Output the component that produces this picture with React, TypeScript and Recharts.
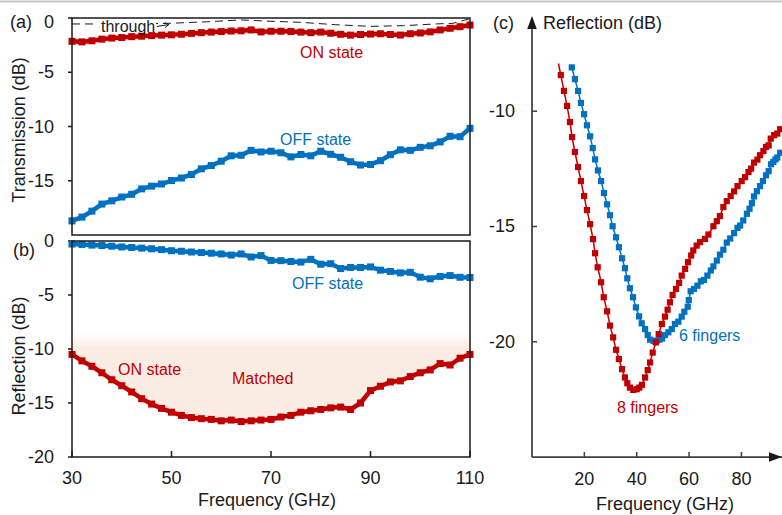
import React from 'react';
import { LineChart, ComposedChart, Line, Area, XAxis, YAxis } from 'recharts';

const FONT = '"Liberation Sans", Arial, Helvetica, sans-serif';
const RED = '#c00000';
const BLUE = '#0070c0';
const INK = '#1a1a1a';
const AXIS_C = '#404040';

// (a) and (b): 30-110 GHz sweep
const FREQ_AB = [30, 32, 34, 36, 38, 40, 42, 44, 46, 48, 50, 52, 54, 56, 58, 60, 62, 64, 66, 68, 70,
  72, 74, 76, 78, 80, 82, 84, 86, 88, 90, 92, 94, 96, 98, 100, 102, 104, 106, 108, 110];

const ON_TRANS = [-2.15, -2.2, -2.1, -1.95, -1.85, -1.8, -1.72, -1.68, -1.62, -1.58,
  -1.55, -1.5, -1.42, -1.35, -1.3, -1.25, -1.2, -1.18, -1.1, -1.28,
  -1.22, -1.22, -1.25, -1.3, -1.35, -1.3, -1.4, -1.5, -1.58, -1.52,
  -1.48, -1.45, -1.52, -1.57, -1.45, -1.38, -1.28, -1.1, -0.95, -0.8, -0.65];

const OFF_TRANS = [-18.7, -18.35, -17.8, -17.15, -16.85, -16.5, -16.25, -15.75, -15.5, -15.3,
  -14.98, -14.75, -14.42, -13.9, -13.6, -13.2, -12.7, -12.65, -12.2, -12.35,
  -12.28, -12.42, -12.8, -12.58, -12.7, -12.28, -12.56, -12.84, -13.25, -13.55,
  -13.5, -13.15, -12.6, -12.15, -12.2, -11.92, -11.78, -11.42, -10.9, -10.94, -10.17];

const THROUGH_FREQ = [30, 38, 49, 57, 64, 70, 76, 83, 90, 96.5, 103, 106.6, 110];
const THROUGH_DB = [-0.55, -0.55, -0.5, -0.35, -0.18, -0.3, -0.4, -0.62, -0.77, -0.71, -0.55, -0.49, -0.06];

const OFF_REFL = [-0.28, -0.32, -0.38, -0.42, -0.48, -0.55, -0.6, -0.66, -0.72, -0.8,
  -0.9, -0.95, -1.02, -1.07, -1.13, -1.2, -1.3, -1.2, -1.48, -1.35,
  -1.8, -1.82, -1.9, -1.95, -1.7, -2.15, -2.1, -2.55, -2.45, -2.45,
  -2.4, -2.7, -2.82, -2.95, -2.9, -3.35, -3.5, -3.28, -3.2, -3.36, -3.38];

const ON_REFL = [-10.5, -11.1, -11.6, -12.2, -12.85, -13.4, -13.98, -14.6, -15.1, -15.5,
  -15.85, -16.15, -16.35, -16.45, -16.52, -16.65, -16.58, -16.72, -16.65, -16.58,
  -16.52, -16.3, -16.15, -15.85, -15.72, -15.6, -15.45, -15.38, -15.6, -15.0,
  -13.85, -13.45, -13.05, -12.95, -12.55, -12.2, -11.94, -11.35, -11.48, -10.85, -10.5];

const MATCH_TOP = -8.5; // upper edge of the shaded "Matched" band

// (c): reflection for 8 and 6 fingers
const F8_FREQ = [10.1, 11.0, 12.2, 13.4, 14.5, 15.3, 16.4, 17.6, 18.7, 19.9,
  21.0, 22.2, 23.3, 24.1, 25.1, 26.4, 27.4, 28.7, 29.8, 31.0,
  32.1, 33.2, 34.4, 35.5, 36.4, 37.4, 38.7, 40.0, 41.0, 42.0,
  43.2, 44.2, 45.1, 46.1, 47.3, 48.4, 49.6, 50.8, 51.8, 52.7,
  53.7, 55.0, 56.2, 57.2, 58.5, 59.6, 60.8, 61.6, 62.9, 64.2,
  66.1, 67.4, 69.3, 70.6, 71.8, 73.1, 74.4, 75.9, 77.2, 78.5,
  80.1, 81.4, 82.7, 83.7, 84.8, 86.1, 87.1, 88.4, 89.4, 90.4,
  91.2, 92.5, 93.7, 94.8];
const F8_DB = [-7.93, -8.43, -9.12, -9.77, -10.47, -11.12, -11.77, -12.42, -13.03, -13.68,
  -14.29, -14.9, -15.55, -16.16, -16.77, -17.42, -18.07, -18.68, -19.3, -19.81,
  -20.35, -20.75, -21.19, -21.55, -21.8, -21.99, -22.09, -22.06, -21.99, -21.87,
  -21.55, -21.23, -20.9, -20.47, -20.03, -19.67, -19.23, -18.91, -18.61, -18.29,
  -17.97, -17.71, -17.45, -17.13, -16.84, -16.55, -16.26, -16.04, -15.83, -15.68,
  -15.54, -15.35, -14.99, -14.77, -14.55, -14.16, -13.9, -13.68, -13.48, -13.25,
  -13.03, -12.86, -12.64, -12.49, -12.23, -12.1, -11.91, -11.73, -11.55, -11.48,
  -11.19, -11.04, -10.97, -10.78];

const F6_FREQ = [15.2, 16.4, 17.6, 18.7, 19.9, 21.0, 22.2, 23.2, 24.1, 25.2,
  26.4, 27.5, 28.7, 29.8, 30.8, 32.1, 33.2, 34.4, 35.5, 36.4,
  37.4, 38.6, 39.7, 40.9, 41.9, 43.2, 44.2, 45.1, 46.4, 47.6,
  48.7, 49.7, 50.8, 52.1, 53.4, 54.6, 55.9, 57.2, 58.2, 59.5,
  59.9, 60.6, 61.9, 63.2, 64.5, 65.7, 67.0, 68.3, 69.3, 70.6,
  71.8, 73.1, 74.4, 75.7, 77.2, 78.5, 79.5, 80.7, 82.1, 83.1,
  84.0, 84.8, 85.9, 87.1, 88.2, 89.4, 90.4, 91.3, 92.2, 93.0,
  93.7, 94.8];
const F6_DB = [-8.1, -8.61, -9.12, -9.64, -10.13, -10.61, -11.09, -11.6, -12.09, -12.57,
  -13.03, -13.55, -14.04, -14.51, -14.99, -15.47, -15.9, -16.38, -16.81, -17.25,
  -17.68, -18.07, -18.51, -18.9, -19.2, -19.45, -19.71, -19.91, -19.96, -19.96,
  -19.91, -19.86, -19.71, -19.59, -19.45, -19.23, -19.13, -18.91, -18.7, -18.48,
  -18.19, -17.81, -17.71, -17.57, -17.38, -17.32, -17.13, -16.91, -16.73, -16.48,
  -16.22, -16.01, -15.7, -15.52, -15.29, -15.06, -14.96, -14.74, -14.45, -14.23,
  -13.99, -13.7, -13.47, -13.25, -13.03, -12.78, -12.6, -12.3, -12.2, -12.09,
  -12.01, -11.8];

const pairs = (xs: number[], ys: number[]) => xs.map((f, i) => ({ f, v: ys[i] }));

const onTransRows = pairs(FREQ_AB, ON_TRANS);
const offTransRows = pairs(FREQ_AB, OFF_TRANS);
const throughRows = pairs(THROUGH_FREQ, THROUGH_DB);
const reflRows = FREQ_AB.map((f, i) => ({ f, on: ON_REFL[i], off: OFF_REFL[i], band: [ON_REFL[i], MATCH_TOP] }));
const f8Rows = pairs(F8_FREQ, F8_DB);
const f6Rows = pairs(F6_FREQ, F6_DB);

const squareDot = (color: string, size: number, skipFirst = false) => (p: any) => {
  const { cx, cy, index } = p;
  if (cx == null || cy == null || (skipFirst && index === 0)) return <g key={`n-${index}`} />;
  return <rect key={`s-${index}`} x={cx - size / 2} y={cy - size / 2} width={size} height={size} fill={color} />;
};

// bottom-axis tick pointing up into the plot, label optional
const InwardXTick = ({ x, y, payload, gap, len, label, color }: any) => (
  <g>
    <line x1={x} x2={x} y1={y - gap} y2={y - gap - len} stroke={color || INK} strokeWidth={1.5} />
    {label && (
      <text x={x} y={y} textAnchor="middle" dominantBaseline="central" fontSize={18} fill={INK} fontFamily={FONT}>
        {payload.value}
      </text>
    )}
  </g>
);

// left-axis tick pointing right into the plot (panel c)
const InwardYTick = ({ x, y, payload }: any) => (
  <g>
    <line x1={x + 17} x2={x + 22} y1={y} y2={y} stroke={AXIS_C} strokeWidth={1.5} />
    <text x={x} y={y} textAnchor="end" dominantBaseline="central" fontSize={18} fill={INK} fontFamily={FONT}>
      {payload.value}
    </text>
  </g>
);

const OutYTick = ({ x, y, payload, zeroShift = 0 }: any) => (
  <text x={x} y={y + (payload.value === 0 ? zeroShift : 0)} textAnchor="end" dominantBaseline="central"
    fontSize={18} fill={INK} fontFamily={FONT}>
    {payload.value}
  </text>
);

const Label = ({ x, y, color = INK, size = 16, children, anchor = 'start' }: any) => (
  <text x={x} y={y} fill={color} fontSize={size} fontFamily={FONT} dominantBaseline="central" textAnchor={anchor}>
    {children}
  </text>
);

export default function App() {
  return (
    <div style={{ position: 'absolute', left: 0, top: 0, width: 782, height: 515, background: '#fff', overflow: 'hidden' }}>
      {/* (a) transmission */}
      <div style={{ position: 'absolute', left: 0, top: 0 }}>
        <LineChart width={480} height={240} margin={{ top: 18, right: 10, bottom: 5, left: 0 }}>
          <XAxis type="number" dataKey="f" domain={[30, 110]} ticks={[50, 70, 90]} height={0}
            axisLine={false} tickLine={false} tickSize={0} tickMargin={0}
            tick={(p: any) => <InwardXTick {...p} gap={0} len={5} />} />
          <YAxis type="number" domain={[-20, 0]} ticks={[-15, -10, -5, 0]} width={72}
            axisLine={false} tickSize={4} tickMargin={14} tickLine={{ stroke: INK, strokeWidth: 1.5 }}
            tick={(p: any) => <OutYTick {...p} zeroShift={4} />} />
          <Line data={throughRows} dataKey="v" type="linear" stroke={INK} strokeWidth={1}
            strokeDasharray="8 5" dot={false} isAnimationActive={false} />
          <Line data={onTransRows} dataKey="v" type="linear" stroke={RED} strokeWidth={4.5}
            dot={squareDot(RED, 7)} isAnimationActive={false} />
          <Line data={offTransRows} dataKey="v" type="linear" stroke={BLUE} strokeWidth={4.5}
            dot={squareDot(BLUE, 7)} isAnimationActive={false} />
        </LineChart>
      </div>

      {/* (b) reflection */}
      <div style={{ position: 'absolute', left: 0, top: 230 }}>
        <ComposedChart width={490} height={285} data={reflRows} margin={{ top: 11, right: 20, bottom: 0, left: 0 }}>
          <defs>
            <linearGradient id="matchFade" x1="0" y1="0" x2="0" y2="1">
              <stop offset="0%" stopColor="#f9dfcf" stopOpacity={0} />
              <stop offset="16%" stopColor="#f9dfcf" stopOpacity={0.95} />
              <stop offset="100%" stopColor="#f9dfcf" stopOpacity={0.95} />
            </linearGradient>
          </defs>
          <XAxis type="number" dataKey="f" domain={[30, 110]} ticks={[30, 50, 70, 90, 110]} height={58}
            axisLine={false} tickLine={false} tickSize={0} tickMargin={21}
            tick={(p: any) => <InwardXTick {...p} gap={21} len={6} label />} />
          <YAxis type="number" domain={[-20, 0]} ticks={[-20, -15, -10, -5, 0]} width={72}
            axisLine={false} tickSize={4} tickMargin={14} tickLine={{ stroke: INK, strokeWidth: 1.5 }}
            tick={(p: any) => <OutYTick {...p} />} />
          <Area dataKey="band" type="linear" stroke="none" fill="url(#matchFade)" isAnimationActive={false} />
          <Line dataKey="off" type="linear" stroke={BLUE} strokeWidth={4.5}
            dot={squareDot(BLUE, 7)} isAnimationActive={false} />
          <Line dataKey="on" type="linear" stroke={RED} strokeWidth={4.5}
            dot={squareDot(RED, 7)} isAnimationActive={false} />
        </ComposedChart>
      </div>

      {/* (c) finger comparison */}
      <div style={{ position: 'absolute', left: 480, top: 0 }}>
        <LineChart width={302} height={515} margin={{ top: 19, right: 0, bottom: 0, left: 0 }}>
          <XAxis type="number" dataKey="f" domain={[0, 95.5]} ticks={[20, 40, 60, 80]} allowDataOverflow height={58}
            axisLine={{ stroke: AXIS_C, strokeWidth: 1.75 }} tickLine={false} tickSize={0} tickMargin={22}
            tick={(p: any) => <InwardXTick {...p} gap={22} len={5} label color={AXIS_C} />} />
          <YAxis type="number" domain={[-25, -6]} ticks={[-20, -15, -10]} allowDataOverflow width={52}
            axisLine={{ stroke: AXIS_C, strokeWidth: 1.75 }} tickLine={false} tickSize={0} tickMargin={17}
            tick={(p: any) => <InwardYTick {...p} />} />
          <Line data={f6Rows} dataKey="v" type="linear" stroke={BLUE} strokeWidth={1.5}
            dot={squareDot(BLUE, 6.2)} isAnimationActive={false} />
          <Line data={f8Rows} dataKey="v" type="linear" stroke={RED} strokeWidth={1.5}
            dot={squareDot(RED, 6.2, true)} isAnimationActive={false} />
        </LineChart>
      </div>

      {/* frames, arrows and annotations */}
      <svg width={782} height={515} style={{ position: 'absolute', left: 0, top: 0, pointerEvents: 'none' }}>
        <rect x={0} y={0.5} width={782} height={2} fill="#c8c8c8" />
        <rect x={72} y={18} width={398} height={217} fill="none" stroke={INK} strokeWidth={1.5} />
        <rect x={72} y={241} width={398} height={216} fill="none" stroke={INK} strokeWidth={1.5} />

        {/* through label sits on the dashed line */}
        <rect x={97} y={20} width={59} height={10} fill="#fff" />
        <Label x={101} y={26}>through</Label>
        <line x1={157} y1={26.5} x2={169} y2={24.5} stroke={INK} strokeWidth={1} />
        <polyline points="164.5,22.6 169,24.5 165.2,27.4" fill="none" stroke={INK} strokeWidth={1} />

        <Label x={10} y={22} size={18}>(a)</Label>
        <Label x={13} y={250} size={18}>(b)</Label>
        <Label x={493} y={23} size={18}>(c)</Label>

        <text transform="translate(19,130) rotate(-90)" textAnchor="middle" dominantBaseline="central"
          fontSize={18} fill={INK} fontFamily={FONT}>Transmission (dB)</text>
        <text transform="translate(19,356) rotate(-90)" textAnchor="middle" dominantBaseline="central"
          fontSize={18} fill={INK} fontFamily={FONT}>Reflection (dB)</text>
        <Label x={267} y={500} size={18} anchor="middle">Frequency (GHz)</Label>
        <Label x={665} y={504} size={18} anchor="middle">Frequency (GHz)</Label>
        <Label x={543} y={23} size={18}>Reflection (dB)</Label>

        <Label x={300} y={52} color={RED}>ON state</Label>
        <Label x={280} y={139} color={BLUE}>OFF state</Label>
        <Label x={292} y={283} color={BLUE}>OFF state</Label>
        <Label x={118} y={369} color={RED}>ON state</Label>
        <Label x={232} y={378} color={RED}>Matched</Label>
        <Label x={679} y={335} color={BLUE}>6 fingers</Label>
        <Label x={617} y={407} color={RED}>8 fingers</Label>

        {/* axis arrow heads of panel (c) */}
        <polygon points="532,16 527.2,29 536.8,29" fill={INK} />
        <polygon points="782,457 769,452.2 769,461.8" fill={INK} />
      </svg>
    </div>
  );
}
